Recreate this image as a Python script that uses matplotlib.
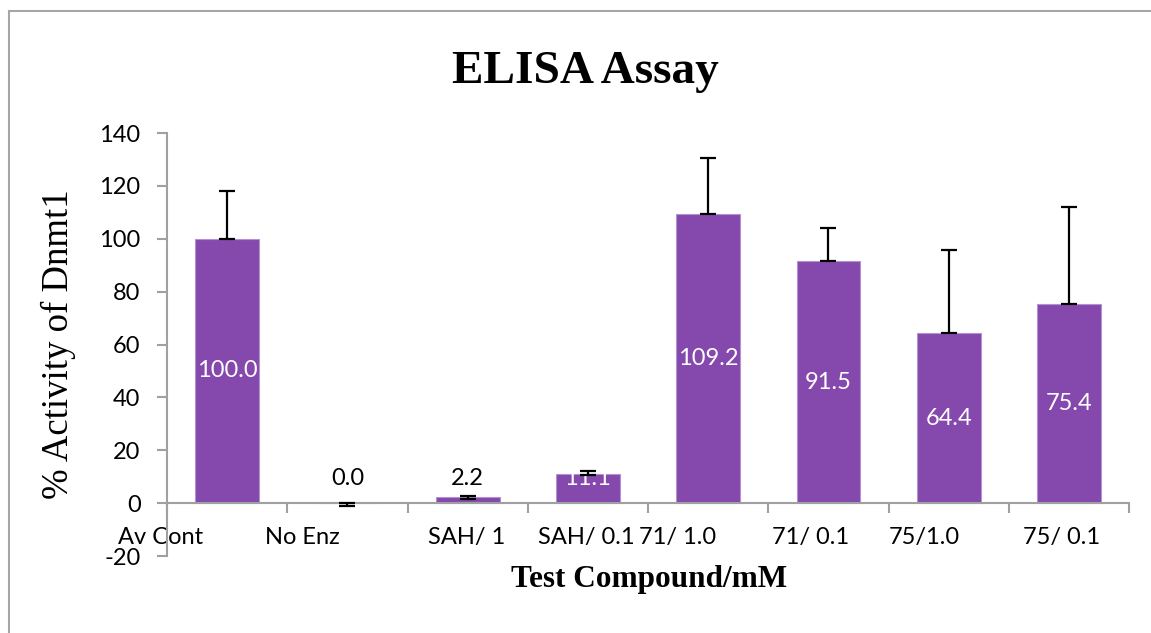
"""ELISA assay bar chart: % activity of Dnmt1 per test compound.

"""

import numpy as np
import matplotlib.pyplot as plt
import matplotlib.transforms as mtransforms
from matplotlib.patches import Rectangle

plt.rcParams["axes.unicode_minus"] = False

# Data
compounds = ["Av Cont", "No Enz", "SAH/ 1", "SAH/ 0.1", "71/ 1.0", "71/ 0.1", "75/1.0", "75/ 0.1"]
activity = [100.0, 0.0, 2.2, 11.1, 109.2, 91.5, 64.4, 75.4]
err_lower = [0.0, 1.2, 0.6, 0.4, 0.0, 0.0, 0.0, 0.0]
err_upper = [18.0, 0.0, 0.5, 0.9, 21.5, 12.7, 31.3, 36.5]
yticks = [-20, 0, 20, 40, 60, 80, 100, 120, 140]

# Horizontal shift (pixels) of each category label under its bar
label_shift = [-67, -45, -1, -2, -31, -18, -24, -7]

bar_colour = "#8548AD"
axis_colour = "#A0A0A0"
sans = ["Lato", "DejaVu Sans"]
serif = ["Liberation Serif", "DejaVu Serif"]

fig = plt.figure(figsize=(11.51, 6.33), dpi=100)
ax = fig.add_axes([0.1451, 0.1216, 0.8358, 0.6682])

# Outer chart frame
fig.patches.append(
    Rectangle((9 / 1151, -0.1), 1.2, 1 - 11 / 633 + 0.1, transform=fig.transFigure,
              fill=False, edgecolor="#A6A6A6", linewidth=1.5)
)

# Bars
x = np.arange(len(compounds))
ax.bar(x, activity, width=0.53, color=bar_colour, edgecolor="#B292CF",
       linewidth=0.8, zorder=2)

# Value labels
for xi, v in zip(x, activity):
    if v > 20:
        y, c = v / 2, "white"
    else:
        y, c = 9.5, "white" if v > 5 else "black"
    ax.text(xi, y, f"{v:.1f}", ha="center", va="center", color=c,
            fontsize=17, family=sans, zorder=3)

# Error bars
ax.errorbar(x, activity, yerr=[err_lower, err_upper], fmt="none", ecolor="black",
            elinewidth=1.6, capsize=5.5, capthick=1.6, zorder=4)

# Axes styling
ax.set_xlim(-0.5, len(compounds) - 0.5)
ax.set_ylim(yticks[0], yticks[-1])
ax.set_yticks(yticks)
for side in ["top", "right"]:
    ax.spines[side].set_visible(False)
ax.spines["bottom"].set_position(("data", 0))
for side in ["left", "bottom"]:
    ax.spines[side].set_color(axis_colour)
    ax.spines[side].set_linewidth(1.5)

ax.set_xticks(np.arange(len(compounds) + 1) - 0.5)
ax.set_xticklabels([])
ax.set_xticks(x, minor=True)
ax.set_xticklabels(compounds, minor=True, fontsize=17, family=sans)
ax.tick_params(axis="x", which="major", direction="out", length=7, width=1.5,
               color=axis_colour)
ax.tick_params(axis="x", which="minor", length=0, pad=17)
ax.tick_params(axis="y", direction="out", length=7, width=1.5, color=axis_colour,
               labelsize=17, pad=12)
for lab in ax.get_yticklabels():
    lab.set_family(sans)

for lab, dx in zip(ax.get_xticklabels(minor=True), label_shift):
    offset = mtransforms.ScaledTranslation(dx / 100, 0, fig.dpi_scale_trans)
    lab.set_transform(lab.get_transform() + offset)

# Titles
fig.text(0.509, 0.886, "ELISA Assay", ha="center", va="center", fontsize=34,
         fontweight="bold", family=serif)
ax.set_ylabel("% Activity of Dnmt1", fontsize=26.5, family=serif)
ax.yaxis.set_label_coords(-0.095, 0.5)
fig.text(0.5635, 0.084, "Test Compound/mM", ha="center", va="center", fontsize=22.5,
         fontweight="bold", family=serif)

plt.savefig("out.png", dpi=100)
plt.close()
